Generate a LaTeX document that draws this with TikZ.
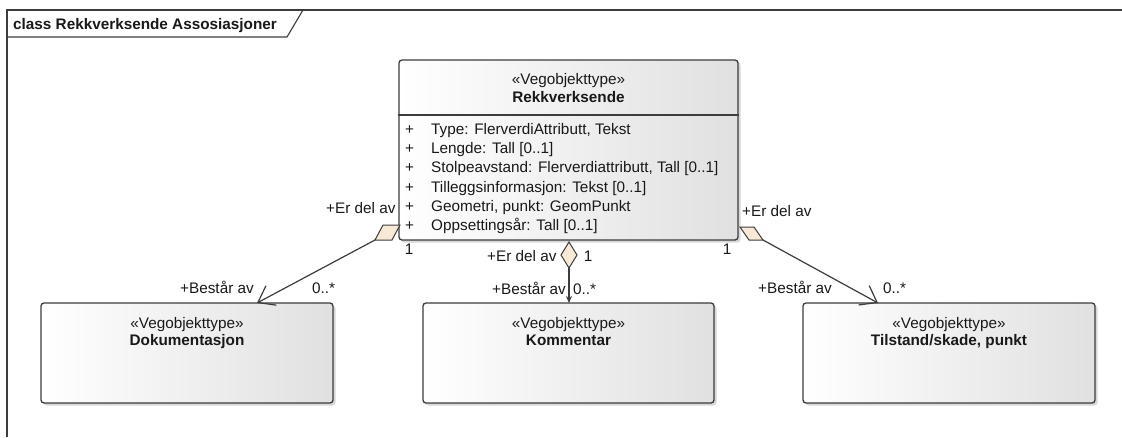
\documentclass[tikz,border=0pt]{standalone}
\usepackage{fontspec}
\setmainfont{Liberation Sans}
\usetikzlibrary{arrows.meta,shadows}
\newcommand\dfont{\fontsize{15.3}{19.2}\selectfont}
\definecolor{aggfill}{RGB}{247,233,214}
\definecolor{linegray}{RGB}{60,60,60}
\begin{document}
\begin{tikzpicture}[x=1pt,y=-1pt,
  cls/.style={draw=linegray, line width=1.3pt, rounded corners=3pt,
    left color=white, right color=black!12, inner sep=0pt,
    drop shadow={shadow xshift=2.5pt, shadow yshift=-2.5pt, fill=black!30, opacity=.5}},
  txt/.style={font=\dfont, inner sep=0pt, text=black!90},
  bold/.style={txt, font=\dfont\bfseries},
  assoc/.style={draw=linegray, line width=1.2pt},
  openhead/.style={-{Straight Barb[length=15pt,width=22pt,line width=1.2pt]}},
  smallhead/.style={-{Stealth[length=7pt,width=6pt]}},
  agg/.style={draw=linegray, line width=1pt, fill=aggfill, line join=miter}]

\useasboundingbox[fill=white] (0,0) rectangle (1122,437);

% diagram frame with its title tab
\draw[linegray, line width=1.1pt] (7,437) -- (7,10) -- (1122,10);
\draw[linegray, line width=1.1pt] (7,37) -- (287,37) -- (303,10);
\node[bold, anchor=base west] (title) at (13,29.5) {class Rekkverksende Assosiasjoner};

% main class
\node[cls, minimum width=339pt, minimum height=180pt] (rek) at (568.5,150) {};
\draw[linegray, line width=1.3pt] (rek.west |- 0,115) -- (rek.east |- 0,115);
\node[txt, anchor=base] (rekst) at (568.5,84.5) {«Vegobjekttype»};
\node[bold, anchor=base] (rekname) at (568.5,102.5) {Rekkverksende};
\foreach \i/\t in {0/{Type: FlerverdiAttributt, Tekst},
                   1/{Lengde: Tall [0..1]},
                   2/{Stolpeavstand: Flerverdiattributt, Tall [0..1]},
                   3/{Tilleggsinformasjon: Tekst [0..1]},
                   4/{Geometri, punkt: GeomPunkt},
                   5/{Oppsettingsår: Tall [0..1]}} {
  \node[txt, anchor=base west] (plus\i) at (405,134.5+19.2*\i) {+};
  \node[txt, anchor=base west] (attr\i) at (431,134.5+19.2*\i) {\t};
}

% associated classes
\node[cls, minimum width=292pt, minimum height=100pt] (dok) at (187,353) {};
\node[txt, anchor=base] (dokst) at (187,328.5) {«Vegobjekttype»};
\node[bold, anchor=base] (dokname) at (187,345.5) {Dokumentasjon};

\node[cls, minimum width=291pt, minimum height=100pt] (kom) at (568.5,353) {};
\node[txt, anchor=base] (komst) at (568.5,328.5) {«Vegobjekttype»};
\node[bold, anchor=base] (komname) at (568.5,345.5) {Kommentar};

\node[cls, minimum width=292pt, minimum height=100pt] (til) at (949,353) {};
\node[txt, anchor=base] (tilst) at (949,328.5) {«Vegobjekttype»};
\node[bold, anchor=base] (tilname) at (949,345.5) {Tilstand/skade, punkt};

% aggregation ends
\coordinate (aggL) at (375,240);
\coordinate (aggM) at (569,268);
\coordinate (aggR) at (763,240);
\coordinate (endL) at (257,303);
\coordinate (endM) at (569,303);
\coordinate (endR) at (878,303);

\draw[assoc, openhead] (aggL) -- (endL);
\draw[assoc, smallhead] (aggM) -- (endM);
\draw[assoc, openhead] (aggR) -- (endR);

\draw[agg] (400,225) -- (383,225) -- (aggL) -- (392,240) -- cycle;
\draw[agg] (569,242) -- (577,255) -- (aggM) -- (561,255) -- cycle;
\draw[agg] (740,227) -- (754,227) -- (aggR) -- (749,240) -- cycle;

% role names and multiplicities
\node[txt, anchor=base west] (lEr) at (326,213.5) {+Er del av};
\node[txt, anchor=base] (l1) at (409,254.5) {1};
\node[txt, anchor=base west] (lBe) at (180,293.5) {+Består av};
\node[txt, anchor=base west] (lMul) at (312,293.5) {0..*};

\node[txt, anchor=base west] (mEr) at (487,261.5) {+Er del av};
\node[txt, anchor=base] (m1) at (588,261.5) {1};
\node[txt, anchor=base west] (mBe) at (492,294.5) {+Består av};
\node[txt, anchor=base west] (mMul) at (573,294.5) {0..*};

\node[txt, anchor=base west] (rEr) at (742,216.5) {+Er del av};
\node[txt, anchor=base] (r1) at (727,254.5) {1};
\node[txt, anchor=base west] (rBe) at (758,293.5) {+Består av};
\node[txt, anchor=base west] (rMul) at (883,293.5) {0..*};
\end{tikzpicture}
\end{document}
